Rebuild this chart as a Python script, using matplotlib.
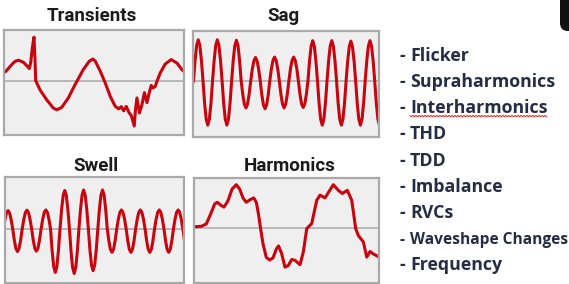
import numpy as np
import matplotlib
matplotlib.use("Agg")
import matplotlib.pyplot as plt
from matplotlib.patches import FancyBboxPatch

W, H = 569, 284  # output size in px (dpi 100)

# ---- data ------------------------------------------------------------
# Transients: time (ms) / voltage (pu)
trans_t = [0.0, 0.5, 1.93, 2.75, 3.58, 4.83, 5.63, 6.33, 6.7, 7.08, 7.5, 7.75,
           7.93, 9.0, 10.68, 12.33, 13.18, 14.43, 16.08, 17.75, 18.33, 19.83,
           21.33, 22.25, 22.83, 24.08, 25.33, 26.58, 27.83, 28.68, 29.33, 29.93,
           30.58, 31.33, 31.83, 32.58, 32.88, 33.25, 33.88, 34.5, 35.13, 35.75,
           36.38, 36.83, 37.25, 37.83, 38.25, 39.08, 40.33, 41.83, 43.25, 44.5, 45.0]
trans_v = [0.42, 0.49, 0.82, 0.98, 1.04, 0.94, 0.78, 0.62, 0.95, 1.65, 2.19, 1.07,
           0.02, -0.44, -0.94, -1.35, -1.44, -1.32, -0.85, -0.19, 0.02, 0.57,
           0.99, 1.10, 0.99, 0.49, -0.10, -0.77, -1.27, -1.39, -1.28, -1.49,
           -1.27, -1.60, -1.72, -2.25, -1.45, -0.85, -1.60, -1.19, -0.58, -1.08,
           -0.55, -0.22, -0.35, -0.27, -0.02, 0.40, 0.85, 1.07, 0.90, 0.57, 0.48]

# Sag: one sample every 20/12 ms (pu)
SAG_STEP = 20 / 12
sag_v = [0, 0.49, 0.85, 0.98, 0.85, 0.49, 0, -0.53, -0.91, -1.05, -0.91, -0.53,
         0, 0.49, 0.85, 0.98, 0.85, 0.49, 0, -0.53, -0.91, -1.05, -0.91, -0.53,
         0, 0.49, 0.84, 0.97, 0.84, 0.49, 0, -0.32, -0.55, -0.64, -0.55, -0.32,
         0, 0.28, 0.48, 0.56, 0.48, 0.28, 0, -0.33, -0.57, -0.66, -0.57, -0.33,
         0, 0.29, 0.49, 0.57, 0.49, 0.29, 0, -0.32, -0.55, -0.64, -0.55, -0.32,
         0, 0.29, 0.49, 0.57, 0.49, 0.29, 0, -0.32, -0.55, -0.63, -0.55, -0.32,
         0, 0.48, 0.83, 0.96, 0.83, 0.48, 0, -0.53, -0.91, -1.05, -0.91, -0.53,
         0, 0.48, 0.83, 0.96, 0.83, 0.48, 0, -0.53, -0.91, -1.05, -0.91, -0.53,
         0, 0.48, 0.82, 0.95, 0.82, 0.48, 0, -0.53, -0.91, -1.05, -0.91, -0.53,
         0, 0.48, 0.83, 0.96, 0.83, 0.48, 0, -0.53, -0.91, -1.05]

# Swell: one sample every 20/12 ms (pu)
SWELL_STEP = 20 / 12
swell_v = [0, 0.45, 0.78, 0.90, 0.78, 0.45, 0, -0.55, -0.95, -1.10, -0.95, -0.55,
           0, 0.46, 0.80, 0.92, 0.80, 0.46, 0, -0.54, -0.94, -1.08, -0.94, -0.54,
           0, 0.47, 0.81, 0.93, 0.81, 0.47, 0, -1.06, -1.84, -2.12, -1.84, -1.06,
           0, 0.94, 1.63, 1.88, 1.63, 0.94, 0, -1.09, -1.88, -2.17, -1.88, -1.09,
           0, 0.95, 1.65, 1.90, 1.65, 0.95, 0, -1.02, -1.76, -2.03, -1.76, -1.02,
           0, 0.95, 1.65, 1.90, 1.65, 0.95, 0, -0.57, -0.99, -1.14, -0.99, -0.57,
           0, 0.47, 0.81, 0.93, 0.81, 0.47, 0, -0.57, -0.99, -1.14, -0.99, -0.57,
           0, 0.47, 0.81, 0.93, 0.81, 0.47, 0, -0.57, -0.99, -1.14, -0.99, -0.57,
           0, 0.47, 0.81, 0.93, 0.81, 0.47, 0, -0.57, -0.99, -1.14, -0.99, -0.57,
           0, 0.47, 0.81, 0.93, 0.81, 0.47, 0, -0.57]

# Harmonics: time (ms) / voltage (pu)
harm_t = [0.0, 0.27, 1.51, 2.54, 3.44, 4.27, 4.80, 5.63, 6.19, 7.01, 7.84, 8.72,
          9.42, 10.10, 10.78, 11.48, 12.31, 12.85, 13.34, 13.75, 14.23, 14.91,
          15.61, 16.29, 16.97, 17.42, 18.04, 18.76, 19.44, 20.14, 20.82, 21.86,
          22.54, 23.24, 24.27, 25.30, 25.98, 27.01, 28.72, 29.75, 30.58, 31.61,
          32.52, 33.34, 33.88, 34.91, 35.61, 36.29, 36.97, 37.88, 38.3]
harm_v = [0.02, 0.02, 0.03, 0.09, 0.34, 0.59, 0.63, 0.55, 0.51, 0.67, 0.96, 1.07,
          0.96, 0.74, 0.63, 0.69, 0.74, 0.63, 0.30, -0.04, -0.41, -0.75,
          -0.81, -0.76, -0.54, -0.46, -0.64, -0.99, -0.95, -0.80, -0.82, -0.93,
          -0.61, -0.03, 0.10, 0.68, 0.81, 0.74, 1.07, 0.93, 0.85, 0.93,
          0.68, -0.03, -0.20, -0.36, -0.74, -0.60, -0.66, -0.72, -0.74]

metrics = ["Flicker", "Supraharmonics", "Interharmonics", "THD", "TDD",
           "Imbalance", "RVCs", "Waveshape Changes", "Frequency"]

sag_t = np.arange(len(sag_v)) * SAG_STEP
swell_t = np.arange(len(swell_v)) * SWELL_STEP

# ---- layout (px: left, top, right, bottom) ---------------------------
panels = [
    ("Transients", trans_t, trans_v, (4, 30, 183.5, 135), (0, 44.9), (-2.7, 2.55), (92, 21.3)),
    ("Sag", sag_t, sag_v, (193, 30.5, 379.3, 136.5), (-0.5, 194.8), (-1.321, 1.202), (283, 21.3)),
    ("Swell", swell_t, swell_v, (5, 177, 184.3, 282.5), (1.8, 191.5), (-2.61, 2.537), (95.5, 171.2)),
    ("Harmonics", harm_t, harm_v, (194, 177.5, 379, 282.5), (0, 38.14), (-1.375, 1.25), (290, 171.2)),
]

RED = "#c8050f"
TITLE_FONT = ["Roboto", "DejaVu Sans"]
LIST_FONT = ["Open Sans", "DejaVu Sans"]
NAVY = "#252d45"

fig = plt.figure(figsize=(W / 100, H / 100), dpi=100)
fig.patch.set_facecolor("white")

for title, t, v, (x0, y0, x1, y1), xl, yl, (tx, ty) in panels:
    ax = fig.add_axes([x0 / W, 1 - y1 / H, (x1 - x0) / W, (y1 - y0) / H])
    ax.set_facecolor("#efefef")
    for s in ax.spines.values():
        s.set_color("#a9a9a9")
        s.set_linewidth(1.6)
    ax.set_xticks([])
    ax.set_yticks([])
    ax.axhline(0, color="#b3b3b3", lw=1.3, zorder=1)
    ax.plot(t, v, color=RED, lw=2.2, solid_joinstyle="round", zorder=2)
    ax.set_xlim(*xl)
    ax.set_ylim(*yl)
    fig.text(tx / W, 1 - ty / H, title, ha="center", va="baseline",
             fontsize=13.5, fontweight="bold", family=TITLE_FONT, color="#1b1b1b")

# list of metrics on the right
labels = {}
for i, m in enumerate(metrics):
    yb = 60.7 + 26.2 * i
    fs = 11.2 if m == "Waveshape Changes" else 12.8
    fig.text(400 / W, 1 - yb / H, "-", ha="left", va="baseline", fontsize=fs,
             fontweight="bold", family=LIST_FONT, color=NAVY)
    labels[m] = fig.text(410 / W, 1 - yb / H, m, ha="left", va="baseline", fontsize=fs,
                         fontweight="bold", family=LIST_FONT, color=NAVY)

# spell-check squiggle under "Interharmonics"
fig.canvas.draw()
bb = labels["Interharmonics"].get_window_extent(fig.canvas.get_renderer())
xs = np.arange(bb.x0, bb.x1, 1.5)
ys = bb.y0 + 1.0 + np.where(np.arange(len(xs)) % 2 == 0, 0.7, -0.7)
fig.add_artist(plt.Line2D(xs / W, ys / H, color="#e0201c", lw=0.7))

# dark shape clipped at the top-right corner
fig.add_artist(FancyBboxPatch((5.6, 2.53), 0.25, 0.5, boxstyle="round,pad=0,rounding_size=0.08",
                              transform=fig.dpi_scale_trans, facecolor="#111111", edgecolor="none"))

fig.savefig("out.png", dpi=100)
